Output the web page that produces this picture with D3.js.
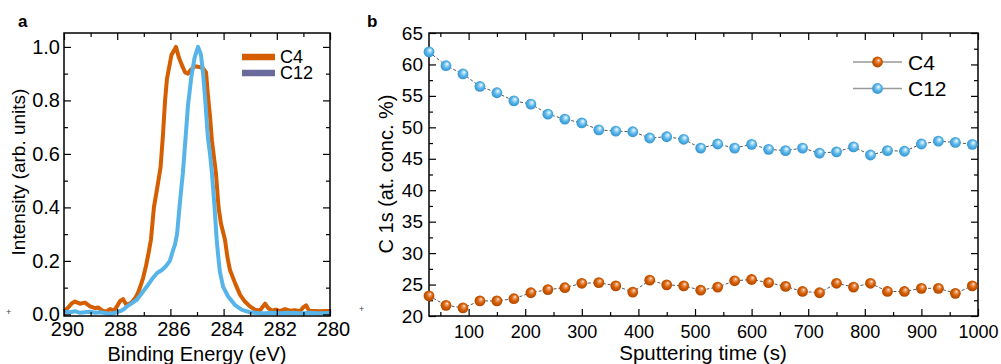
<!DOCTYPE html>
<html>
<head>
<meta charset="utf-8">
<script src="https://cdn.jsdelivr.net/npm/d3@7"></script>
<style>
  html, body { margin: 0; padding: 0; background: #fff; }
  svg { display: block; font-family: "Liberation Sans", Arial, sans-serif; }
</style>
</head>
<body>
<svg id="fig" width="1001" height="364"></svg>
<script>
// ---- panel a: C 1s spectra ----
const energyC4 = [290.00,289.85,289.70,289.59,289.40,289.21,289.02,288.83,288.72,288.57,288.42,288.27,288.12,288.01,287.89,287.78,287.65,287.46,287.33,287.22,287.11,287.03,286.92,286.82,286.73,286.62,286.50,286.37,286.28,286.20,286.13,285.96,285.79,285.68,285.56,285.45,285.34,285.23,285.08,284.92,284.77,284.66,284.59,284.51,284.44,284.29,284.19,284.10,283.95,283.85,283.76,283.57,283.38,283.20,283.01,282.82,282.63,282.44,282.33,282.18,282.03,281.88,281.69,281.50,281.32,281.13,281.02,280.90,280.79,280.56,280.38,280.19,280.00];
const intensityC4 = [0.012,0.025,0.042,0.048,0.040,0.044,0.030,0.023,0.026,0.015,0.010,0.020,0.014,0.030,0.050,0.057,0.035,0.044,0.060,0.080,0.110,0.135,0.180,0.230,0.280,0.400,0.470,0.550,0.670,0.800,0.880,0.970,1.000,0.960,0.930,0.905,0.900,0.915,0.928,0.925,0.920,0.905,0.820,0.740,0.650,0.530,0.400,0.340,0.280,0.210,0.166,0.117,0.073,0.048,0.030,0.017,0.015,0.040,0.024,0.014,0.018,0.012,0.020,0.014,0.016,0.012,0.025,0.034,0.014,0.013,0.012,0.013,0.013];

const energyC12 = [290.00,289.77,289.59,289.40,289.21,289.02,288.83,288.65,288.46,288.27,288.08,287.89,287.74,287.63,287.44,287.26,287.07,286.88,286.69,286.50,286.32,286.17,286.02,285.90,285.83,285.75,285.64,285.53,285.43,285.34,285.21,285.09,284.96,284.85,284.77,284.70,284.59,284.51,284.44,284.34,284.26,284.20,284.14,284.02,283.83,283.57,283.31,283.01,282.71,282.44,282.18,281.88,281.58,281.32,281.02,280.75,280.45,280.00];
const intensityC12 = [0.010,0.008,0.012,0.006,0.008,0.010,0.006,0.008,0.005,0.002,0.006,0.012,0.020,0.030,0.042,0.055,0.080,0.105,0.132,0.155,0.166,0.180,0.200,0.240,0.260,0.300,0.420,0.530,0.660,0.780,0.890,0.960,1.000,0.970,0.900,0.814,0.660,0.600,0.530,0.400,0.280,0.216,0.160,0.104,0.067,0.035,0.017,0.008,0.005,0.004,0.006,0.004,0.006,0.005,0.004,0.006,0.004,0.005];

const energyTicks = [290, 288, 286, 284, 282, 280];
const intensityTicks = [0.0, 0.2, 0.4, 0.6, 0.8, 1.0];

// ---- panel b: depth profile ----
const sputterTime = [30,60,90,120,150,180,210,240,270,300,330,360,390,420,450,480,510,540,570,600,630,660,690,720,750,780,810,840,870,900,930,960,990];
const concC4 = [23.2,21.7,21.3,22.4,22.4,22.75,23.7,24.2,24.5,25.2,25.3,24.8,23.8,25.7,24.95,24.8,24.1,24.6,25.6,25.8,25.3,24.7,23.9,23.7,25.2,24.6,25.2,23.9,23.9,24.4,24.4,23.6,24.8];
const concC12 = [62.0,59.8,58.5,56.5,55.5,54.2,53.7,52.1,51.3,50.7,49.6,49.4,49.3,48.3,48.5,48.1,46.7,47.35,46.7,47.3,46.5,46.3,46.7,45.9,46.1,46.9,45.6,46.3,46.2,47.35,47.8,47.6,47.3];

const timeTicks = [100,200,300,400,500,600,700,800,900,1000];
const concTicks = [20,25,30,35,40,45,50,55,60,65];

const seriesNames = ["C4", "C12"];
const orange = "#d55e00";
const blue = "#56b4e9";

const svg = d3.select("#fig");

// sphere-like gradients for the markers
const defs = svg.append("defs");
function sphere(id, light, base, dark) {
  const g = defs.append("radialGradient").attr("id", id)
    .attr("cx", "0.5").attr("cy", "0.5").attr("r", "0.55")
    .attr("fx", "0.62").attr("fy", "0.32");
  g.append("stop").attr("offset", "0").attr("stop-color", "#ffffff");
  g.append("stop").attr("offset", "0.2").attr("stop-color", light);
  g.append("stop").attr("offset", "0.55").attr("stop-color", base);
  g.append("stop").attr("offset", "1").attr("stop-color", dark);
}
sphere("ballOrange", "#f0a070", orange, "#a84300");
sphere("ballBlue", "#b8e2f8", blue, "#2f8fc8");

// draws inward major + minor ticks on all four sides and the frame
function frame(g, x, y, xMajor, xMinor, yMajor, yMinor) {
  const [x0, x1] = x.range();
  const [y0, y1] = y.range();
  const sides = [
    [d3.axisBottom, x, `translate(0,${y0})`, xMajor, xMinor],
    [d3.axisTop, x, `translate(0,${y1})`, xMajor, xMinor],
    [d3.axisLeft, y, `translate(${x0},0)`, yMajor, yMinor],
    [d3.axisRight, y, `translate(${x1},0)`, yMajor, yMinor]
  ];
  for (const [ax, sc, tr, major, minor] of sides) {
    g.append("g").attr("transform", tr)
      .call(ax(sc).tickValues(minor).tickSize(-4).tickFormat(""))
      .call(s => s.select(".domain").remove())
      .call(s => s.selectAll("line").attr("stroke", "#000").attr("stroke-width", 1.2));
    g.append("g").attr("transform", tr)
      .call(ax(sc).tickValues(major).tickSize(-7).tickFormat(""))
      .call(s => s.select(".domain").remove())
      .call(s => s.selectAll("line").attr("stroke", "#000").attr("stroke-width", 1.2));
  }
  g.append("rect")
    .attr("x", x0).attr("y", y1)
    .attr("width", x1 - x0).attr("height", y0 - y1)
    .attr("fill", "none").attr("stroke", "#000").attr("stroke-width", 1.5);
}

// ================= panel a =================
const xA = d3.scaleLinear().domain([290, 280]).range([64, 330]);
const yA = d3.scaleLinear().domain([-0.006, 1.052]).range([316, 33]);
const gA = svg.append("g");

const lineA = d3.line().x(d => xA(d[0])).y(d => yA(d[1]));
gA.append("path").datum(d3.zip(energyC4, intensityC4))
  .attr("d", lineA).attr("fill", "none").attr("stroke", orange)
  .attr("stroke-width", 4).attr("stroke-linejoin", "round");
gA.append("path").datum(d3.zip(energyC12, intensityC12))
  .attr("d", lineA).attr("fill", "none").attr("stroke", blue)
  .attr("stroke-width", 4).attr("stroke-linejoin", "round");

frame(gA, xA, yA,
  energyTicks, [289, 287, 285, 283, 281],
  intensityTicks, [0.1, 0.3, 0.5, 0.7, 0.9]);

gA.append("g").attr("transform", "translate(0,316)")
  .call(d3.axisBottom(xA).tickValues(energyTicks).tickSize(0).tickPadding(6).tickFormat(d3.format("d")))
  .call(s => s.select(".domain").remove())
  .call(s => s.selectAll("text").attr("font-size", 20).attr("fill", "#000").attr("dx", 3)
    .attr("font-family", "Liberation Sans, Arial, sans-serif"));
gA.append("g").attr("transform", "translate(64,0)")
  .call(d3.axisLeft(yA).tickValues(intensityTicks).tickSize(0).tickPadding(4).tickFormat(d3.format(".1f")))
  .call(s => s.select(".domain").remove())
  .call(s => s.selectAll("text").attr("font-size", 20).attr("fill", "#000")
    .attr("font-family", "Liberation Sans, Arial, sans-serif"));

gA.append("text").attr("x", 197).attr("y", 361).attr("text-anchor", "middle")
  .attr("font-size", 20).text("Binding Energy (eV)");
gA.append("text").attr("transform", "translate(25,172) rotate(-90)")
  .attr("text-anchor", "middle").attr("font-size", 19).text("Intensity (arb. units)");
gA.append("text").attr("x", 18).attr("y", 27).attr("font-size", 17)
  .attr("font-weight", "bold").text("a");
gA.append("text").attr("x", 6).attr("y", 315).attr("font-size", 9).attr("fill", "#444").text("+");

// legend a
const legA = gA.append("g");
[orange, "#6a6a9c"].forEach((c, i) => {
  const yy = 57 + i * 16;
  legA.append("line").attr("x1", 242).attr("x2", 275).attr("y1", yy).attr("y2", yy)
    .attr("stroke", c).attr("stroke-width", 6.5);
  legA.append("text").attr("x", 280).attr("y", yy).attr("dy", "0.36em")
    .attr("font-size", 18).text(seriesNames[i]);
});

// ================= panel b =================
const xB = d3.scaleLinear().domain([30, 1000]).range([429, 978]);
const yB = d3.scaleLinear().domain([20, 65]).range([316, 33]);
const gB = svg.append("g");

frame(gB, xB, yB,
  timeTicks, [50,150,250,350,450,550,650,750,850,950],
  concTicks, [22.5,27.5,32.5,37.5,42.5,47.5,52.5,57.5,62.5]);

gB.append("g").attr("transform", "translate(0,316)")
  .call(d3.axisBottom(xB).tickValues(timeTicks).tickSize(0).tickPadding(9).tickFormat(d3.format("d")))
  .call(s => s.select(".domain").remove())
  .call(s => s.selectAll("text").attr("font-size", 18).attr("fill", "#000")
    .attr("font-family", "Liberation Sans, Arial, sans-serif"));
gB.append("g").attr("transform", "translate(429,0)")
  .call(d3.axisLeft(yB).tickValues(concTicks).tickSize(0).tickPadding(6).tickFormat(d3.format("d")))
  .call(s => s.select(".domain").remove())
  .call(s => s.selectAll("text").attr("font-size", 19).attr("fill", "#000")
    .attr("font-family", "Liberation Sans, Arial, sans-serif"));

gB.append("text").attr("x", 703).attr("y", 360).attr("text-anchor", "middle")
  .attr("font-size", 20.5).text("Sputtering time (s)");
gB.append("text").attr("transform", "translate(393,174) rotate(-90)")
  .attr("text-anchor", "middle").attr("font-size", 20).text("C 1s (at. conc. %)");
gB.append("text").attr("x", 367).attr("y", 27).attr("font-size", 17)
  .attr("font-weight", "bold").text("b");
gB.append("text").attr("x", 359).attr("y", 312).attr("font-size", 9).attr("fill", "#444").text("+");

const lineB = d3.line().x(d => xB(d[0])).y(d => yB(d[1]));
const seriesB = [[concC4, "url(#ballOrange)"], [concC12, "url(#ballBlue)"]];
for (const [vals, fill] of seriesB) {
  const pts = d3.zip(sputterTime, vals);
  gB.append("path").datum(pts).attr("d", lineB)
    .attr("fill", "none").attr("stroke", "#555").attr("stroke-width", 1)
    .attr("stroke-dasharray", "3,2");
  gB.selectAll(null).data(pts).join("circle")
    .attr("cx", d => xB(d[0])).attr("cy", d => yB(d[1])).attr("r", 5.4)
    .attr("fill", fill);
}

// legend b
const legB = gB.append("g");
seriesB.forEach(([, fill], i) => {
  const yy = 62 + i * 26.5;
  legB.append("line").attr("x1", 853).attr("x2", 902).attr("y1", yy).attr("y2", yy)
    .attr("stroke", "#999").attr("stroke-width", 1.3);
  legB.append("circle").attr("cx", 877.5).attr("cy", yy).attr("r", 5.4).attr("fill", fill);
  legB.append("text").attr("x", 908).attr("y", yy).attr("dy", "0.36em")
    .attr("font-size", 21).text(seriesNames[i]);
});
</script>
</body>
</html>
